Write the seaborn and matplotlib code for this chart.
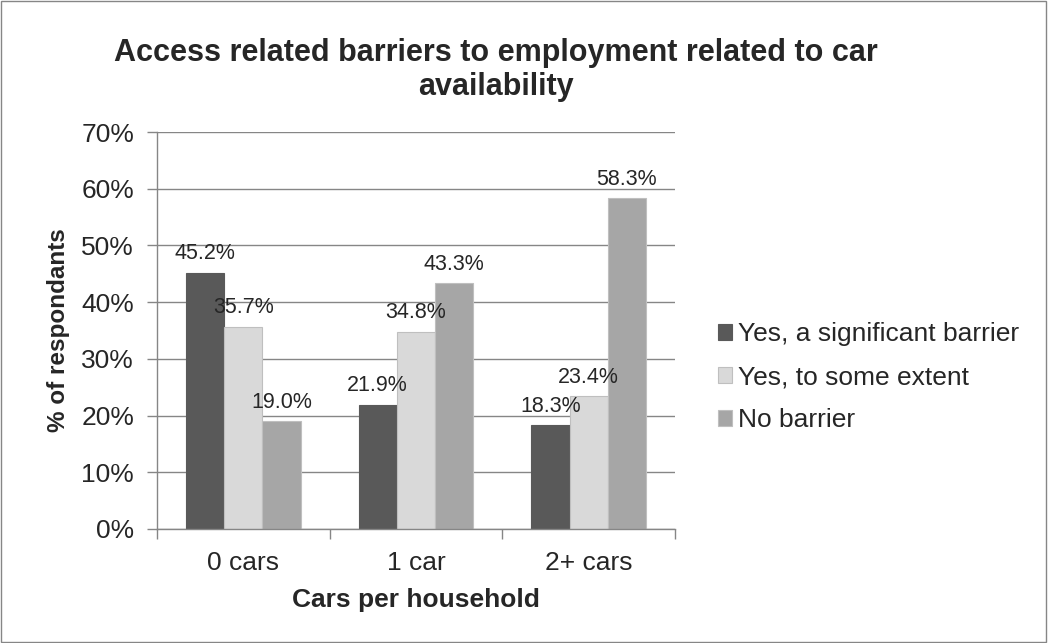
import seaborn as sns
import pandas as pd
import matplotlib.pyplot as plt
from matplotlib.patches import Rectangle

## Donnees
cars = ["0 cars", "1 car", "2+ cars"]
barriers = ["Yes, a significant barrier", "Yes, to some extent", "No barrier"]
significant = [45.2, 21.9, 18.3]
some_extent = [35.7, 34.8, 23.4]
no_barrier = [19.0, 43.3, 58.3]

colors = ["#595959", "#D9D9D9", "#A6A6A6"]

rows = []
for serie, vals in zip(barriers, [significant, some_extent, no_barrier]):
    for c, v in zip(cars, vals):
        rows.append({"cars": c, "barrier": serie, "pct": v})
df = pd.DataFrame(rows)

sns.set_style("white")
plt.rcParams['font.family'] = ['Liberation Sans', 'DejaVu Sans']

fig = plt.figure(figsize=(10.48, 6.43), dpi=100)
ax = fig.add_axes([157 / 1048, 1 - 529 / 643, 518 / 1048, 397 / 643])

sns.barplot(data=df, x="cars", y="pct", hue="barrier", palette=colors,
            saturation=1, width=0.665, ax=ax, errorbar=None)

for cont, fc in zip(ax.containers, colors):
    for p in cont:
        p.set_edgecolor("#BFBFBF" if fc != "#595959" else fc)
        p.set_linewidth(0.8)
    ax.bar_label(cont, labels=[f"{v:.1f}%" for v in cont.datavalues],
                 padding=6, fontsize=15.5)

ax.set_ylim(0, 70)
ax.set_yticks(range(0, 71, 10))
ax.set_yticklabels([f"{t}%" for t in range(0, 71, 10)], fontsize=19)
ax.set_xlim(-0.5, 2.5)
ax.tick_params(axis="x", labelsize=19, length=0, pad=16)
ax.tick_params(axis="y", length=7, color="#868686", width=1, pad=9.5, left=True)
ax.set_xticks([-0.5, 0.5, 1.5, 2.5], minor=True)
ax.tick_params(axis="x", which="minor", length=7, color="#868686", width=1, bottom=True)

ax.yaxis.grid(True, color="#868686", linewidth=1)
ax.set_axisbelow(True)
for s in ["top", "right"]:
    ax.spines[s].set_visible(False)
for s in ["left", "bottom"]:
    ax.spines[s].set_color("#868686")
    ax.spines[s].set_linewidth(1)

ax.set_xlabel("Cars per household", fontsize=19, fontweight="bold", labelpad=9)
ax.set_ylabel("% of respondants", fontsize=17.5, fontweight="bold", labelpad=8)

ax.legend_.remove()
handles = [Rectangle((0, 0), 1, 1, facecolor=c, edgecolor="#BFBFBF" if c != "#595959" else c, linewidth=0.8) for c in colors]
fig.legend(handles, barriers, loc="center left", bbox_to_anchor=(694 / 1048, 1 - 377 / 643),
           frameon=False, fontsize=19, handlelength=0.55, handleheight=0.55,
           handletextpad=0.2, labelspacing=0.72)

fig.text(496 / 1048, 1 - 70 / 643, "Access related barriers to employment related to car\navailability",
         ha="center", va="center", fontsize=22, fontweight="bold", linespacing=1.15)

fig.patches.append(Rectangle((0.001, 0.001), 0.997, 0.997, transform=fig.transFigure,
                             fill=False, edgecolor="#868686", linewidth=1))

plt.savefig("out.png", dpi=100)
